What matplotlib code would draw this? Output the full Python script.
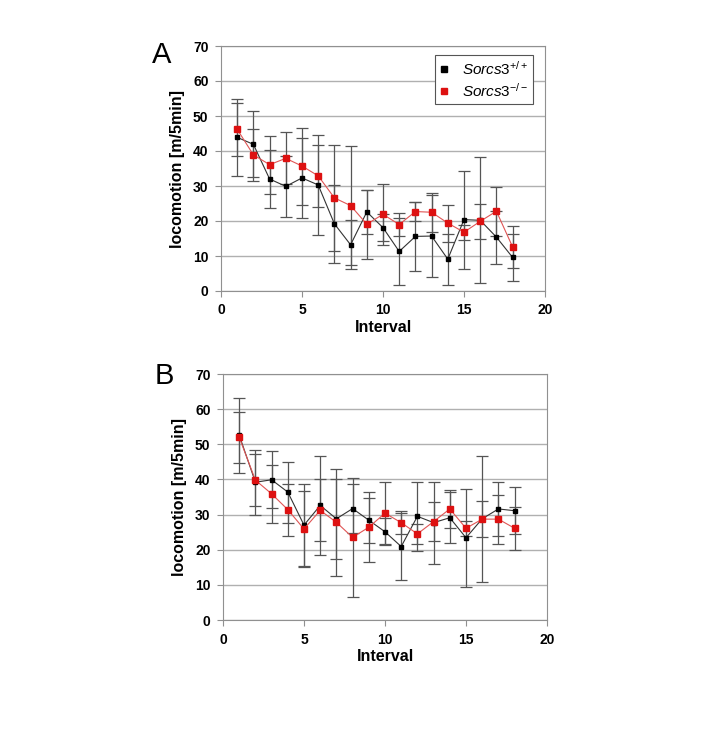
import matplotlib
matplotlib.use('Agg')
import matplotlib.pyplot as plt

plt.rcParams['font.family'] = ['Liberation Sans', 'DejaVu Sans']
plt.rcParams['mathtext.fontset'] = 'custom'
plt.rcParams['mathtext.rm'] = 'Liberation Sans'
plt.rcParams['mathtext.it'] = 'Liberation Sans:italic'

interval = list(range(1, 19))

# panel A
a_wt = [43.9, 41.9, 32.0, 29.9, 32.3, 30.3, 19.2, 13.2, 22.6, 18.1, 11.3, 15.6, 15.7, 9.1, 20.4, 20.2, 15.4, 9.6]
a_wt_err = [10.9, 9.4, 8.2, 8.7, 11.5, 14.2, 11.1, 7.0, 6.4, 3.9, 9.5, 9.9, 11.7, 7.3, 14.0, 18.0, 7.6, 6.7]
a_ko = [46.2, 38.9, 36.1, 37.9, 35.7, 32.9, 26.6, 24.4, 19.1, 21.9, 19.0, 22.7, 22.5, 19.4, 16.8, 19.9, 22.8, 12.6]
a_ko_err = [7.5, 7.5, 8.3, 7.4, 11.0, 8.8, 15.2, 17.0, 9.9, 8.8, 3.3, 2.8, 5.6, 5.3, 2.1, 5.1, 7.0, 6.1]

# panel B
b_wt = [52.6, 39.2, 39.9, 36.4, 27.0, 32.6, 28.8, 31.7, 28.4, 25.1, 20.9, 29.5, 27.7, 29.1, 23.4, 28.8, 31.6, 31.1]
b_wt_err = [10.7, 9.3, 8.1, 8.7, 11.6, 14.2, 11.3, 7.0, 6.4, 3.9, 9.5, 9.9, 11.7, 7.3, 14.0, 18.0, 7.6, 6.7]
b_ko = [52.0, 39.8, 35.9, 31.4, 25.9, 31.2, 27.8, 23.5, 26.4, 30.4, 27.7, 24.5, 28.0, 31.6, 26.1, 28.7, 28.7, 26.1]
b_ko_err = [7.3, 7.5, 8.3, 7.4, 10.9, 8.8, 15.2, 17.0, 9.9, 8.8, 3.3, 2.8, 5.6, 5.3, 2.1, 5.1, 7.0, 6.1]

y_ticks = [0, 10, 20, 30, 40, 50, 60, 70]
x_ticks = [0, 5, 10, 15, 20]


def draw_panel(ax, wt, wt_err, ko, ko_err, letter, letter_y, legend=False):
    ax.set_axisbelow(True)
    ax.grid(axis='y', color='#b0b0b0', lw=1)
    ax.errorbar(interval, wt, yerr=wt_err, fmt='none', ecolor='#555555',
                elinewidth=0.9, capsize=4, capthick=0.9)
    ax.errorbar(interval, ko, yerr=ko_err, fmt='none', ecolor='#555555',
                elinewidth=0.9, capsize=4, capthick=0.9)
    ax.plot(interval, wt, color='#333333', lw=0.8, marker='s', ms=3,
            mfc='black', mec='black', label=r'$\mathit{Sorcs3}^{\mathit{+/+}}$')
    ax.plot(interval, ko, color='#e05555', lw=0.8, marker='s', ms=4.3,
            mfc='#dd1111', mec='#dd1111', label=r'$\mathit{Sorcs3}^{\mathit{-/-}}$', zorder=4)
    ax.set_xlim(0, 20)
    ax.set_ylim(0, 70)
    ax.set_xticks(x_ticks)
    ax.set_yticks(y_ticks)
    for lab in ax.get_xticklabels() + ax.get_yticklabels():
        lab.set_fontweight('bold')
    for s in ax.spines.values():
        s.set_color('#909090')
    ax.tick_params(direction='out', length=4, color='#909090', labelsize=10, pad=5)
    ax.set_xlabel('Interval', fontsize=11.5, fontweight='bold', labelpad=2)
    ax.set_ylabel('locomotion [m/5min]', fontsize=11.5, fontweight='bold', labelpad=6)
    ax.text(-0.212, letter_y, letter, transform=ax.transAxes, fontsize=21,
            va='baseline', ha='left')
    if legend:
        leg = ax.legend(loc='upper right', bbox_to_anchor=(0.963, 0.963), borderaxespad=0,
                        fancybox=False, edgecolor='#555555', fontsize=11,
                        handlelength=0.6, handletextpad=0.9, borderpad=0.3,
                        labelspacing=0.25, framealpha=1)
        leg.get_frame().set_linewidth(0.8)
        for h in leg.get_lines():
            h.set_linestyle('none')
            h.set_markersize(5)


fig = plt.figure(figsize=(7.08, 7.39), dpi=100)
W, H = 708, 739
ax1 = fig.add_axes([221 / W, 1 - 291 / H, 324 / W, 245 / H])
ax2 = fig.add_axes([223 / W, 1 - 620 / H, 324 / W, 246 / H])
draw_panel(ax1, a_wt, a_wt_err, a_ko, a_ko_err, 'A', (291 - 63) / 245, legend=True)
draw_panel(ax2, b_wt, b_wt_err, b_ko, b_ko_err, 'B', (620 - 384) / 246)
fig.savefig('out.png', dpi=100)
